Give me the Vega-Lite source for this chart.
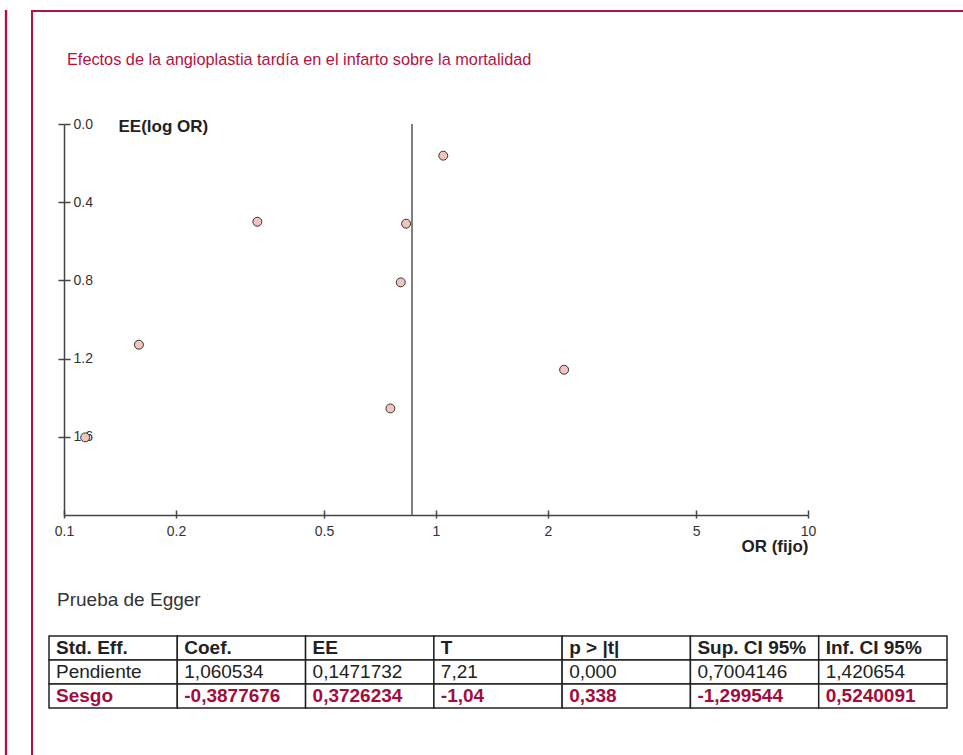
{
  "$schema": "https://vega.github.io/schema/vega-lite/v6.json",
  "width": 744,
  "height": 391,
  "autosize": {"type": "none"},
  "padding": {"left": 64, "top": 124, "right": 155, "bottom": 240},
  "background": "white",
  "config": {
    "view": {"stroke": null},
    "font": "Liberation Sans",
    "axis": {"grid": false}
  },
  "title": {
    "text": "Efectos de la angioplastia tardía en el infarto sobre la mortalidad",
    "anchor": "start",
    "frame": "group",
    "font": "Liberation Sans",
    "fontSize": 16.3,
    "fontWeight": "normal",
    "color": "#b3123f",
    "baseline": "alphabetic",
    "offset": -72,
    "dx": 3
  },
  "layer": [
    {
      "layer": [
        {
          "data": {"values": [
            {"estudio": 1, "OR": 1.046, "EE": 0.162},
            {"estudio": 2, "OR": 0.831, "EE": 0.510},
            {"estudio": 3, "OR": 0.804, "EE": 0.810},
            {"estudio": 4, "OR": 2.21, "EE": 1.257},
            {"estudio": 5, "OR": 0.754, "EE": 1.455},
            {"estudio": 6, "OR": 0.331, "EE": 0.500},
            {"estudio": 7, "OR": 0.159, "EE": 1.129},
            {"estudio": 8, "OR": 0.114, "EE": 1.603}
          ]},
          "mark": {"type": "circle", "color": "#f1c4bc", "opacity": 1, "stroke": "#333333", "strokeWidth": 1, "size": 80},
          "encoding": {
            "x": {
              "field": "OR", "type": "quantitative",
              "scale": {"type": "log", "domain": [0.1, 10], "nice": false},
              "axis": {
                "orient": "bottom",
                "values": [0.1, 0.2, 0.5, 1, 2, 5, 10],
                "format": "~g",
                "title": "OR (fijo)",
                "titleFont": "Liberation Sans",
                "titleFontSize": 17,
                "titleFontWeight": "bold",
                "titleColor": "#222222",
                "titleAnchor": "end",
                "titleAlign": "right",
                "titleBaseline": "alphabetic",
                "titleX": 744,
                "titleY": 36,
                "domainColor": "#444444",
                "domainWidth": 1.5,
                "tickColor": "#444444",
                "tickWidth": 1.5,
                "tickSize": 3,
                "labelFontSize": 14,
                "labelColor": "#333333",
                "labelPadding": 6,
                "labelFlush": false,
                "labelOverlap": false,
                "labelBound": false
              }
            },
            "y": {
              "field": "EE", "type": "quantitative",
              "scale": {"domain": [0, 2], "reverse": true, "nice": false, "zero": false},
              "axis": {
                "orient": "left",
                "values": [0, 0.4, 0.8, 1.2, 1.6],
                "format": ".1f",
                "title": "EE(log OR)",
                "titleAngle": 0,
                "titleFont": "Liberation Sans",
                "titleFontSize": 17,
                "titleFontWeight": "bold",
                "titleColor": "#222222",
                "titleAlign": "left",
                "titleBaseline": "alphabetic",
                "titleX": 54,
                "titleY": 7,
                "domainColor": "#444444",
                "domainWidth": 1.5,
                "tickColor": "#444444",
                "tickWidth": 1.5,
                "tickSize": 6,
                "labelFontSize": 14,
                "labelColor": "#333333",
                "labelAlign": "left",
                "labelBaseline": "middle",
                "labelPadding": -15,
                "labelOverlap": false,
                "labelBound": false,
                "labelFlush": false
              }
            }
          }
        },
        {
          "data": {"values": [{"OR_fijo": 0.862}]},
          "mark": {"type": "rule", "color": "#555555", "strokeWidth": 1.5},
          "encoding": {
            "x": {
              "field": "OR_fijo", "type": "quantitative",
              "axis": {
                "orient": "bottom",
                "values": [0.1, 0.2, 0.5, 1, 2, 5, 10],
                "domain": false,
                "labels": false,
                "title": null,
                "tickColor": "#444444",
                "tickWidth": 1.5,
                "tickSize": -5
              }
            },
            "y": {
              "datum": 0,
              "axis": {
                "orient": "left",
                "values": [0, 0.4, 0.8, 1.2, 1.6],
                "domain": false,
                "labels": false,
                "title": null,
                "tickColor": "#444444",
                "tickWidth": 1.5,
                "tickSize": -6
              }
            },
            "y2": {"datum": 2}
          }
        }
      ],
      "resolve": {"scale": {"x": "shared", "y": "shared"}, "axis": {"x": "independent", "y": "independent"}}
    },
    {
      "data": {"values": [
        {"row": "h", "col": "c1", "text": "Std. Eff."},
        {"row": "h", "col": "c2", "text": "Coef."},
        {"row": "h", "col": "c3", "text": "EE"},
        {"row": "h", "col": "c4", "text": "T"},
        {"row": "h", "col": "c5", "text": "p > |t|"},
        {"row": "h", "col": "c6", "text": "Sup. CI 95%"},
        {"row": "h", "col": "c7", "text": "Inf. CI 95%"},
        {"row": "p", "col": "c1", "text": "Pendiente"},
        {"row": "p", "col": "c2", "text": "1,060534"},
        {"row": "p", "col": "c3", "text": "0,1471732"},
        {"row": "p", "col": "c4", "text": "7,21"},
        {"row": "p", "col": "c5", "text": "0,000"},
        {"row": "p", "col": "c6", "text": "0,7004146"},
        {"row": "p", "col": "c7", "text": "1,420654"},
        {"row": "s", "col": "c1", "text": "Sesgo"},
        {"row": "s", "col": "c2", "text": "-0,3877676"},
        {"row": "s", "col": "c3", "text": "0,3726234"},
        {"row": "s", "col": "c4", "text": "-1,04"},
        {"row": "s", "col": "c5", "text": "0,338"},
        {"row": "s", "col": "c6", "text": "-1,299544"},
        {"row": "s", "col": "c7", "text": "0,5240091"},
        {"row": "cap", "col": "c1", "text": "Prueba de Egger"}
      ]},
      "encoding": {
        "x": {
          "field": "col", "type": "nominal",
          "scale": {"type": "band", "domain": ["c1", "c2", "c3", "c4", "c5", "c6", "c7"], "range": [-15, 883], "paddingInner": 0, "paddingOuter": 0},
          "axis": null
        },
        "y": {
          "field": "row", "type": "nominal",
          "scale": {"type": "band", "domain": ["cap", "gap", "h", "p", "s"], "range": [464, 584], "paddingInner": 0, "paddingOuter": 0},
          "axis": null
        }
      },
      "layer": [
        {
          "transform": [{"filter": "datum.row !== 'cap'"}],
          "mark": {"type": "rect", "fill": "white", "stroke": "#222222", "strokeWidth": 1.5}
        },
        {
          "transform": [{"filter": "datum.row === 'h'"}],
          "mark": {"type": "text", "align": "left", "baseline": "middle", "dx": 7, "fontSize": 19, "fontWeight": "bold", "color": "#222222"},
          "encoding": {"x": {"field": "col", "type": "nominal", "bandPosition": 0}, "text": {"field": "text"}}
        },
        {
          "transform": [{"filter": "datum.row === 'p'"}],
          "mark": {"type": "text", "align": "left", "baseline": "middle", "dx": 7, "fontSize": 19, "fontWeight": "normal", "color": "#222222"},
          "encoding": {"x": {"field": "col", "type": "nominal", "bandPosition": 0}, "text": {"field": "text"}}
        },
        {
          "transform": [{"filter": "datum.row === 's'"}],
          "mark": {"type": "text", "align": "left", "baseline": "middle", "dx": 7, "fontSize": 19, "fontWeight": "bold", "color": "#a30d3b"},
          "encoding": {"x": {"field": "col", "type": "nominal", "bandPosition": 0}, "text": {"field": "text"}}
        },
        {
          "transform": [{"filter": "datum.row === 'cap'"}],
          "mark": {"type": "text", "align": "left", "baseline": "middle", "dx": 8, "fontSize": 19, "fontWeight": "normal", "color": "#333333"},
          "encoding": {"x": {"field": "col", "type": "nominal", "bandPosition": 0}, "text": {"field": "text"}}
        }
      ]
    },
    {
      "data": {"values": [{"linea": "borde"}]},
      "encoding": {
        "x": {"datum": 0, "type": "quantitative", "scale": {"domain": [0, 963], "range": [-64, 899], "nice": false, "zero": false}, "axis": null},
        "y": {"datum": 0, "type": "quantitative", "scale": {"domain": [0, 755], "range": [-124, 631], "nice": false, "zero": false}, "axis": null}
      },
      "layer": [
        {
          "mark": {"type": "rule", "color": "#b3123f", "strokeWidth": 2.3},
          "encoding": {"x": {"datum": 6}, "y": {"datum": 10}, "y2": {"datum": 755}}
        },
        {
          "mark": {"type": "rule", "color": "#b3123f", "strokeWidth": 2},
          "encoding": {"x": {"datum": 32}, "y": {"datum": 10}, "y2": {"datum": 755}}
        },
        {
          "mark": {"type": "rule", "color": "#b3123f", "strokeWidth": 2},
          "encoding": {"x": {"datum": 31}, "x2": {"datum": 963}, "y": {"datum": 11}}
        }
      ]
    }
  ],
  "resolve": {
    "scale": {"x": "independent", "y": "independent"},
    "axis": {"x": "independent", "y": "independent"}
  }
}
